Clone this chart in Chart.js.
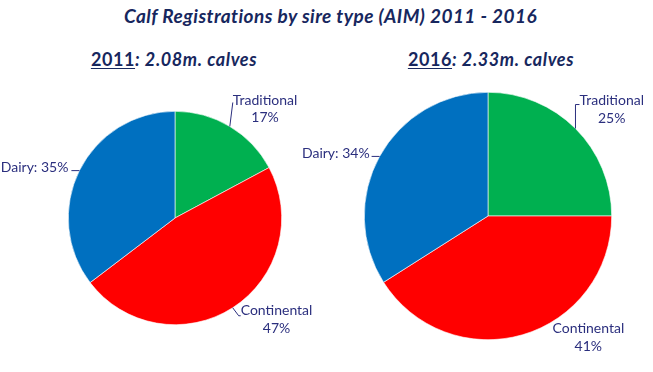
<!DOCTYPE html>
<html><head><meta charset="utf-8">
<script src="https://cdn.jsdelivr.net/npm/chart.js@4"></script>
<style>
html,body{margin:0;padding:0;background:#fff;width:653px;height:372px;overflow:hidden;font-family:Lato,sans-serif}
#title{position:absolute;left:0;width:661px;top:4px;text-align:center;font:italic bold 19px Lato,sans-serif;letter-spacing:0.45px;color:#17275E;white-space:nowrap}
.sub{position:absolute;top:48px;font:italic bold 18px Lato,sans-serif;letter-spacing:0.6px;color:#17275E;white-space:nowrap;transform:translateX(-50%)}
.sub u{font-style:normal;text-underline-offset:2px}
.box{position:absolute}
</style></head><body>
<div id="title">Calf Registrations by sire type (AIM) 2011 - 2016</div>
<div class="sub" style="left:174px"><u>2011</u>: 2.08m. calves</div>
<div class="sub" style="left:491px"><u>2016</u>: 2.33m. calves</div>
<div class="box" style="left:0;top:80px;width:326px;height:292px"><canvas id="c1"></canvas></div>
<div class="box" style="left:290px;top:80px;width:363px;height:292px"><canvas id="c2"></canvas></div>
<script>
// ---- data ----
const categories = ['Traditional', 'Continental', 'Dairy'];
const values2011 = [17, 47, 35];
const values2016 = [25, 41, 34];
const sliceColors = ['#00B050', '#FF0000', '#0070C0'];

// ---- label styling (offsets relative to the slice's mid-angle edge point) ----
const labelStyle2011 = [
  {lines: 2, leader: [[3, -24]], tx: 3, ty: -26, align: 'block'},
  {lines: 2, leader: [[6, 8], [8, 8]], tx: 8, ty: 3, align: 'block'},
  {lines: 1, leader: [[-8, 0]], tx: -11, ty: -3, align: 'right'}
];
const labelStyle2016 = [
  {lines: 2, leader: [[0, -24], [4, -24]], tx: 4, ty: -28, align: 'block'},
  {lines: 2, leader: null, tx: 30, ty: -6, align: 'block'},
  {lines: 1, leader: [[-8, 0]], tx: -10, ty: -3, align: 'right'}
];

const labelFont = '14px Lato, sans-serif';
const labelColor = '#2B2F7E';
const lineH = 17.5;

const pieLabels = {
  id: 'pieLabels',
  afterDatasetsDraw(chart, args, opts) {
    const ctx = chart.ctx;
    const meta = chart.getDatasetMeta(0);
    const data = chart.data.datasets[0].data;
    const styles = opts.styles;
    ctx.save();
    ctx.font = labelFont;
    ctx.fillStyle = labelColor;
    ctx.strokeStyle = labelColor;
    ctx.lineWidth = 1;
    ctx.textBaseline = 'middle';
    meta.data.forEach((arc, i) => {
      const p = arc.getProps(['x', 'y', 'startAngle', 'endAngle', 'outerRadius'], true);
      const mid = (p.startAngle + p.endAngle) / 2;
      const ex = p.x + p.outerRadius * Math.cos(mid);
      const ey = p.y + p.outerRadius * Math.sin(mid);
      const st = styles[i];
      if (st.leader) {
        ctx.beginPath();
        ctx.moveTo(ex, ey);
        st.leader.forEach(([dx, dy]) => ctx.lineTo(ex + dx, ey + dy));
        ctx.stroke();
      }
      const name = chart.data.labels[i];
      const pct = data[i] + '%';
      if (st.lines === 2) {
        const w = Math.max(ctx.measureText(name).width, ctx.measureText(pct).width);
        const cx = ex + st.tx + w / 2;
        ctx.textAlign = 'center';
        ctx.fillText(name, cx, ey + st.ty);
        ctx.fillText(pct, cx, ey + st.ty + lineH);
      } else {
        ctx.textAlign = 'right';
        ctx.fillText(name + ': ' + pct, ex + st.tx, ey + st.ty);
      }
    });
    ctx.restore();
  }
};

function makePie(id, values, styles, padding) {
  new Chart(document.getElementById(id), {
    type: 'pie',
    data: {
      labels: categories,
      datasets: [{data: values, backgroundColor: sliceColors, borderColor: '#ffffff', borderWidth: 0.6}]
    },
    options: {
      responsive: true,
      maintainAspectRatio: false,
      animation: false,
      layout: {padding: padding},
      plugins: {
        legend: {display: false},
        tooltip: {enabled: false},
        pieLabels: {styles: styles}
      }
    },
    plugins: [pieLabels]
  });
}

makePie('c1', values2011, labelStyle2011, {left: 68, top: 31, right: 44, bottom: 47});
makePie('c2', values2016, labelStyle2016, {left: 74, top: 12, right: 41, bottom: 32});
</script>
</body></html>
